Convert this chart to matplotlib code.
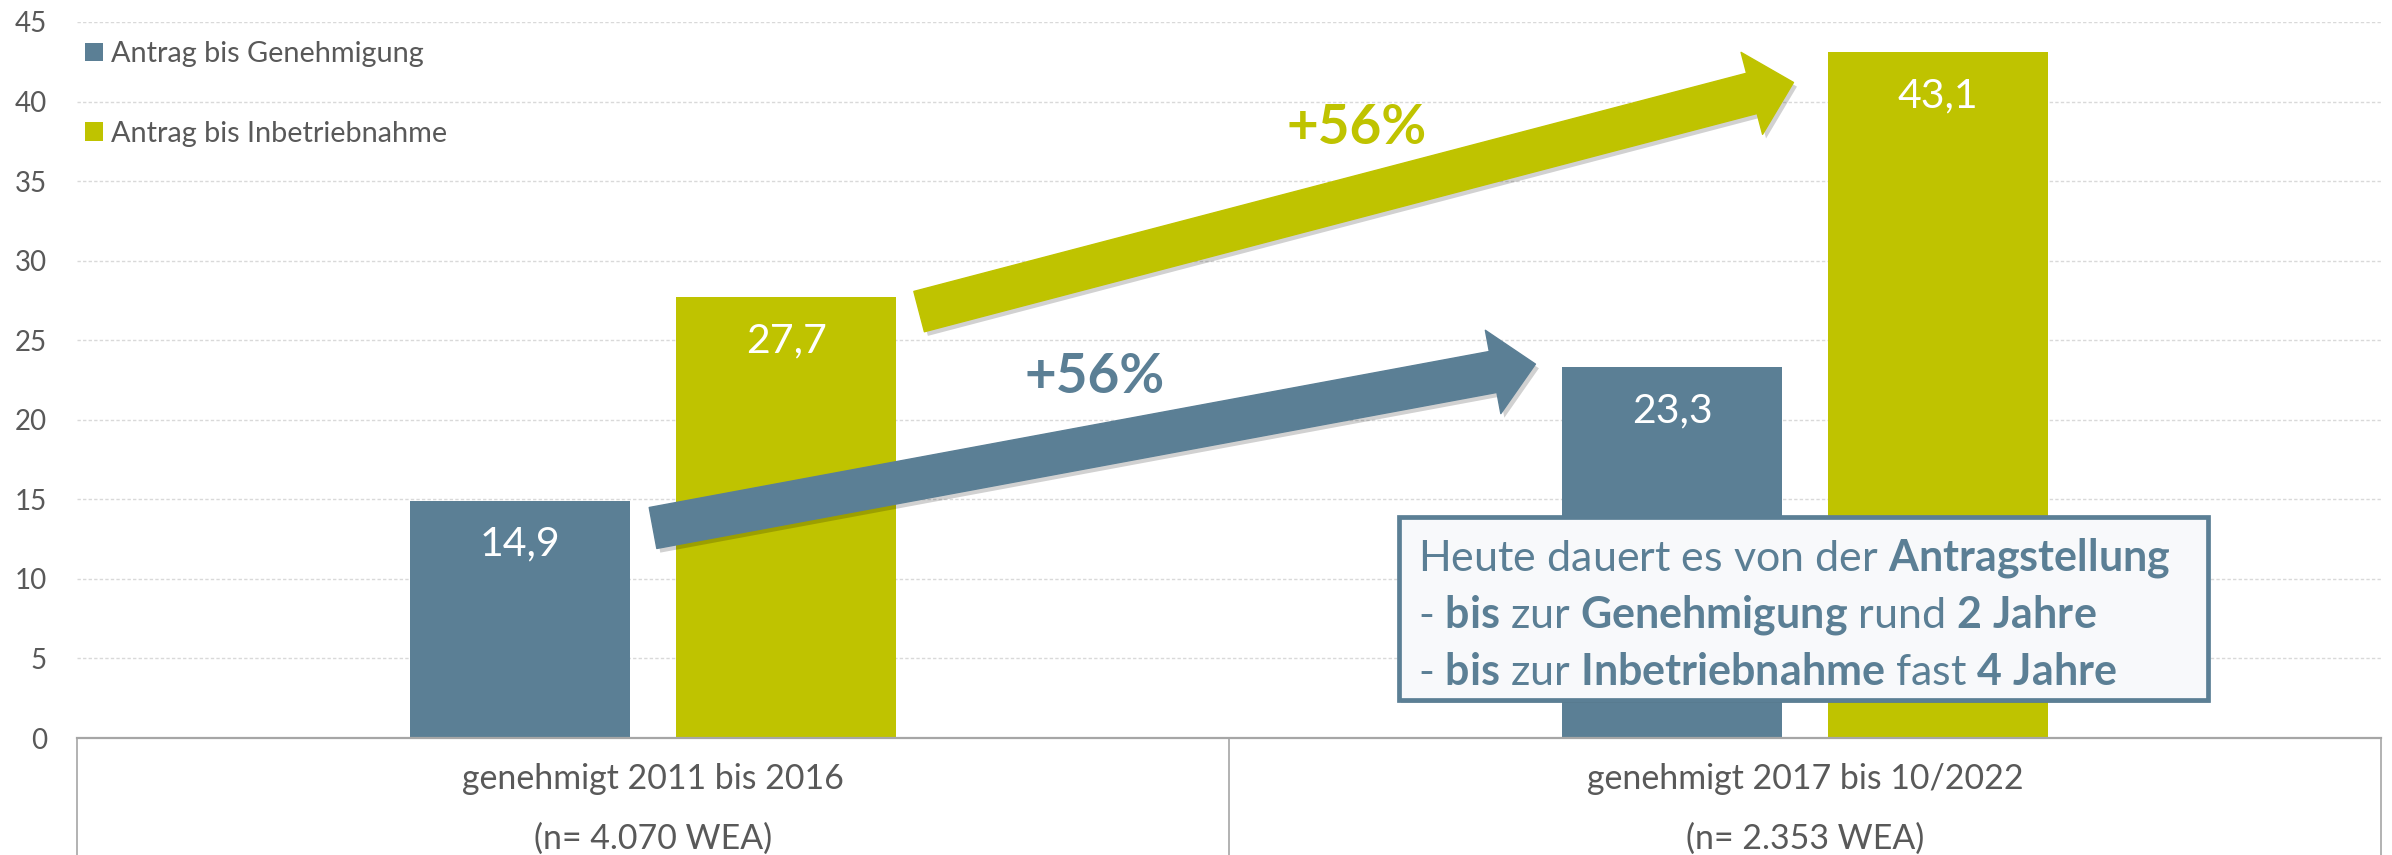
import numpy as np
import matplotlib
matplotlib.use("Agg")
import matplotlib.pyplot as plt
import matplotlib.patheffects as pe
import matplotlib.transforms as mtransforms
from matplotlib.patches import Rectangle

categories = ["genehmigt 2011 bis 2016", "genehmigt 2017 bis 10/2022"]
sample_sizes = ["(n= 4.070 WEA)", "(n= 2.353 WEA)"]
series_names = ["Antrag bis Genehmigung", "Antrag bis Inbetriebnahme"]
genehmigung = [14.9, 23.3]
inbetriebnahme = [27.7, 43.1]
y_ticks = [0, 5, 10, 15, 20, 25, 30, 35, 40, 45]

# hand placed heights of the two growth arrows (start, end)
arrow_blue_y = [13.2, 23.5]
arrow_gold_y = [26.8, 41.2]

box_lines = [
    "Heute dauert es von der $\\mathbf{Antragstellung}$",
    "- $\\mathbf{bis}$ zur $\\mathbf{Genehmigung}$ rund $\\mathbf{2}$ $\\mathbf{Jahre}$",
    "- $\\mathbf{bis}$ zur $\\mathbf{Inbetriebnahme}$ fast $\\mathbf{4}$ $\\mathbf{Jahre}$",
]

BLUE = "#5B7F95"
GOLD = "#BFC300"
GREY = "#595959"
LINE = "#A6A6A6"

plt.rcParams["font.family"] = ["Lato", "DejaVu Sans"]
plt.rcParams["mathtext.fontset"] = "custom"
plt.rcParams["mathtext.rm"] = "Lato"
plt.rcParams["mathtext.bf"] = "Lato:bold"
plt.rcParams["mathtext.it"] = "Lato:italic"

fig = plt.figure(figsize=(23.92, 8.55), dpi=100)
ax = fig.add_axes([0.0322, 0.1368, 0.9632, 0.8375])

x = np.arange(len(categories))
w = 0.191
off = 0.1155
b1 = ax.bar(x - off, genehmigung, width=w, color=BLUE, label=series_names[0], zorder=2)
b2 = ax.bar(x + off, inbetriebnahme, width=w, color=GOLD, label=series_names[1], zorder=2)

ax.set_xlim(-0.5, 1.5)
ax.set_ylim(0, 45)
ax.set_yticks(y_ticks)
ax.set_yticklabels([str(t) for t in y_ticks])
ax.tick_params(axis="y", length=0, pad=21.6, labelsize=20, labelcolor=GREY)
ax.set_xticks([])
ax.yaxis.grid(True, color="#D9D9D9", linestyle=(0, (2.4, 1.6)), linewidth=1.0)
ax.set_axisbelow(True)
for s in ["left", "right", "top"]:
    ax.spines[s].set_visible(False)
ax.spines["bottom"].set_color(LINE)
ax.spines["bottom"].set_linewidth(1.6)

# value labels inside bars
for bars, vals in [(b1, genehmigung), (b2, inbetriebnahme)]:
    for rect, v in zip(bars, vals):
        ax.annotate(f"{v:.1f}".replace(".", ","),
                    xy=(rect.get_x() + rect.get_width() / 2, v),
                    xytext=(0, -39.6), textcoords="offset points",
                    ha="center", va="baseline", color="white", fontsize=29.5)

# category frame below the axis
trans = mtransforms.blended_transform_factory(ax.transData, ax.transAxes)
for bnd in [-0.5, 0.5, 1.5]:
    ax.plot([bnd, bnd], [0, -0.2], transform=trans, color=LINE, lw=1.2, clip_on=False)
for i, (c, n) in enumerate(zip(categories, sample_sizes)):
    ax.text(x[i], -0.0712, c, transform=trans, ha="center", va="baseline",
            fontsize=24.4, color=GREY)
    ax.text(x[i], -0.155, n, transform=trans, ha="center", va="baseline",
            fontsize=24.4, color=GREY)

# growth arrows
shadow = [pe.SimplePatchShadow(offset=(2.5, -3), shadow_rgbFace="black", alpha=0.18), pe.Normal()]
arrows = [
    (x[0] - off + w / 2 + 0.02, x[1] - off - w / 2 - 0.023, arrow_blue_y, BLUE, genehmigung),
    (x[0] + off + w / 2 + 0.02, x[1] + off - w / 2 - 0.03, arrow_gold_y, GOLD, inbetriebnahme),
]
for x0, x1, ys, col, vals in arrows:
    ann = ax.annotate("", xy=(x1, ys[1]), xytext=(x0, ys[0]),
                      arrowprops=dict(arrowstyle="simple,head_length=31,head_width=61,tail_width=30",
                                      mutation_scale=1, color=col, shrinkA=0, shrinkB=0))
    ann.arrow_patch.set_path_effects(shadow)
    ann.arrow_patch.set_zorder(3)
    pct = round((vals[1] / vals[0] - 1) * 100)
    ax.annotate(f"+{pct}%", xy=((x0 + x1) / 2, (ys[0] + ys[1]) / 2), xytext=(0, 50),
                textcoords="offset points", ha="center", va="center",
                fontsize=39.5, fontweight="bold", color=col, zorder=4)

# legend
leg = ax.legend(loc="upper left", bbox_to_anchor=(0.0035, 0.973), frameon=False,
                prop={"size": 20.8}, labelcolor=GREY,
                handlelength=0.62, handleheight=0.62,
                handletextpad=0.28, labelspacing=1.85, borderpad=0, borderaxespad=0)

# text box
box = Rectangle((0.5850, 0.1813), 0.9230 - 0.5850, 0.3950 - 0.1813, transform=fig.transFigure,
                facecolor="#F8F9FB", edgecolor=BLUE, lw=3.4, zorder=5, clip_on=False)
box.set_path_effects([pe.SimplePatchShadow(offset=(1.5, -2), shadow_rgbFace="black", alpha=0.2), pe.Normal()])
ax.add_patch(box)
for yy, line in zip([0.3333, 0.2655, 0.1988], box_lines):
    ax.text(0.5928, yy, line, transform=fig.transFigure, ha="left", va="baseline",
            fontsize=31, color=BLUE, zorder=6)

fig.savefig("out.png", dpi=100)
